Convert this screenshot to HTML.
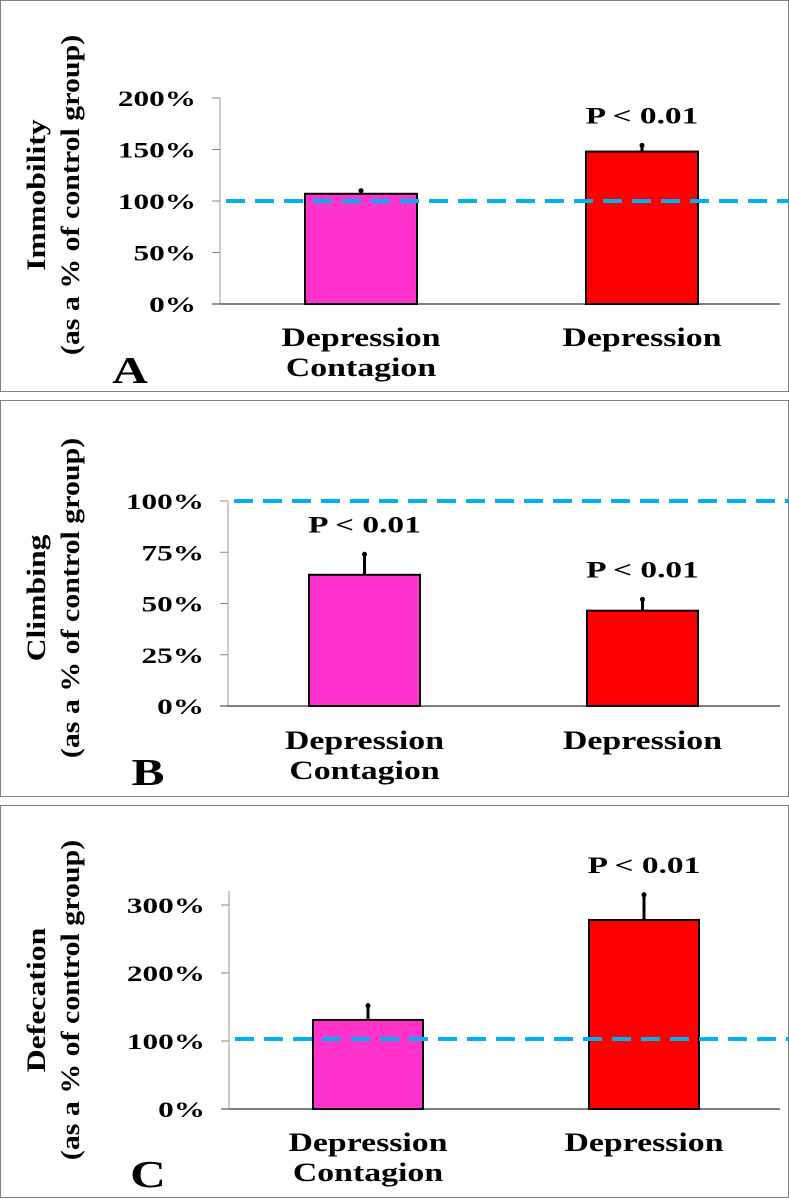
<!DOCTYPE html>
<html><head><meta charset="utf-8"><style>
body{margin:0;background:#fff;width:789px;height:1200px;overflow:hidden}
svg{display:block}
text{font-family:"Liberation Serif",serif;font-weight:bold;fill:#000}
</style></head><body>
<svg id="chart" width="789" height="1200" viewBox="0 0 789 1200"></svg>
<script>
const categories=[["Depression","Contagion"],["Depression"]];
const valuesA=[107,148], errA=[110,154], ticksA=[0,50,100,150,200];
const valuesB=[64,46.5], errB=[74,52], ticksB=[0,25,50,75,100];
const valuesC=[131,278], errC=[152,315], ticksC=[0,100,200,300];
const pLabelsA=["","P < 0.01"], pLabelsB=["P < 0.01","P < 0.01"], pLabelsC=["","P < 0.01"];
const refA=100, refB=100, refC=103;
const svg=document.getElementById('chart');
const NS='http://www.w3.org/2000/svg';
function mk(tag,attrs,parent){const e=document.createElementNS(NS,tag);for(const k in attrs)e.setAttribute(k,attrs[k]);(parent||svg).appendChild(e);return e;}
function widen(t,f){const L=t.getComputedTextLength();if(L>0){t.setAttribute('textLength',(L*f).toFixed(1));t.setAttribute('lengthAdjust','spacingAndGlyphs');}}
const colors=["#ff33cc","#ff0000"];
const panels=[
 {key:"a",letter:"A",title:"Immobility",box:[0,0,789,392],y0:304,yMax:200,yTop:98,axisX:220,bars:[305,586],bw:112,vals:valuesA,errs:errA,ticks:ticksA,p:pLabelsA,ref:refA,titleY:195,lab1:337,letterX:130,letterY:383},
 {key:"b",letter:"B",title:"Climbing",box:[0,400,789,397],y0:706,yMax:100,yTop:501,axisX:228,bars:[309,587],bw:111,vals:valuesB,errs:errB,ticks:ticksB,p:pLabelsB,ref:refB,titleY:598,lab1:740,letterX:148,letterY:785},
 {key:"c",letter:"C",title:"Defecation",box:[0,805,789,393],y0:1109,yMax:300,yTop:905,axisX:229,bars:[313,589],bw:110,vals:valuesC,errs:errC,ticks:ticksC,p:pLabelsC,ref:refC,titleY:1000,lab1:1142,letterX:148,letterY:1187,axisTop:891}
];
panels.forEach(P=>{
 const g=mk('g',{});
 
 
 const y=v=>P.y0-(v/P.yMax)*(P.y0-P.yTop);
 const box=mk('rect',{x:P.box[0]+0.5,y:P.box[1]+0.5,width:P.box[2]-1,height:P.box[3]-1,fill:'none',stroke:'#808080','stroke-width':1},g);
 
 
 const ax=mk('line',{x1:P.axisX,x2:P.axisX,y1:P.axisTop||y(P.yMax),y2:P.y0,stroke:'#999','stroke-width':1},g);
 
 
 const xax=mk('line',{x1:P.axisX-8,x2:780,y1:P.y0,y2:P.y0,stroke:'#555','stroke-width':1.5},g);
 
 
 P.ticks.forEach(t=>{
  const tl=mk('line',{x1:P.axisX-8,x2:P.axisX,y1:y(t),y2:y(t),stroke:'#888'},g);
  
  
  const tx=mk('text',{x:P.axisX-24,y:y(t)+8,'text-anchor':'end','font-size':22},g);
  tx.textContent=t+'%';
  
  
  widen(tx,1.42);
 });
 P.vals.forEach((v,i)=>{
  const bx=P.bars[i], cx=bx+P.bw/2;
  const el=mk('line',{x1:cx,x2:cx,y1:y(P.errs[i]),y2:y(v),stroke:'#000','stroke-width':3},g);
  
  
  const cap=mk('circle',{cx:cx,cy:y(P.errs[i]),r:2.5,fill:'#000'},g);
  
  
  const r=mk('rect',{x:bx,y:y(v),width:P.bw,height:P.y0-y(v),fill:colors[i],stroke:'#000','stroke-width':2},g);
  
  
  if(P.p[i]){
   const pt=mk('text',{x:cx,y:y(P.errs[i])-22,'text-anchor':'middle','font-size':23},g);
   pt.textContent=P.p[i];
   
   
   widen(pt,1.45);
  }
  categories[i].forEach((line,j)=>{
   const ct=mk('text',{x:cx,y:P.lab1+9+j*30,'text-anchor':'middle','font-size':26},g);
   ct.textContent=line;
   
   
   widen(ct,1.3);
  });
 });
 const dl=mk('line',{x1:P.axisX+6,x2:789,y1:y(P.ref),y2:y(P.ref),stroke:'#00b0f0','stroke-width':4,'stroke-dasharray':'19 10'},g);
 
 
 const t1=mk('text',{transform:`translate(45 ${P.titleY}) rotate(-90)`,'text-anchor':'middle','font-size':26},g);
 t1.textContent=P.title;
 
 
 widen(t1,1.22);
 const t2=mk('text',{transform:`translate(79 ${P.titleY}) rotate(-90)`,'text-anchor':'middle','font-size':26},g);
 t2.textContent='(as a % of control group)';
 
 
 widen(t2,1.15);
 const lt=mk('text',{x:P.letterX,y:P.letterY,'text-anchor':'middle','font-size':38},g);
 lt.textContent=P.letter;
 
 
 widen(lt,1.3);
});
</script>
</body></html>
